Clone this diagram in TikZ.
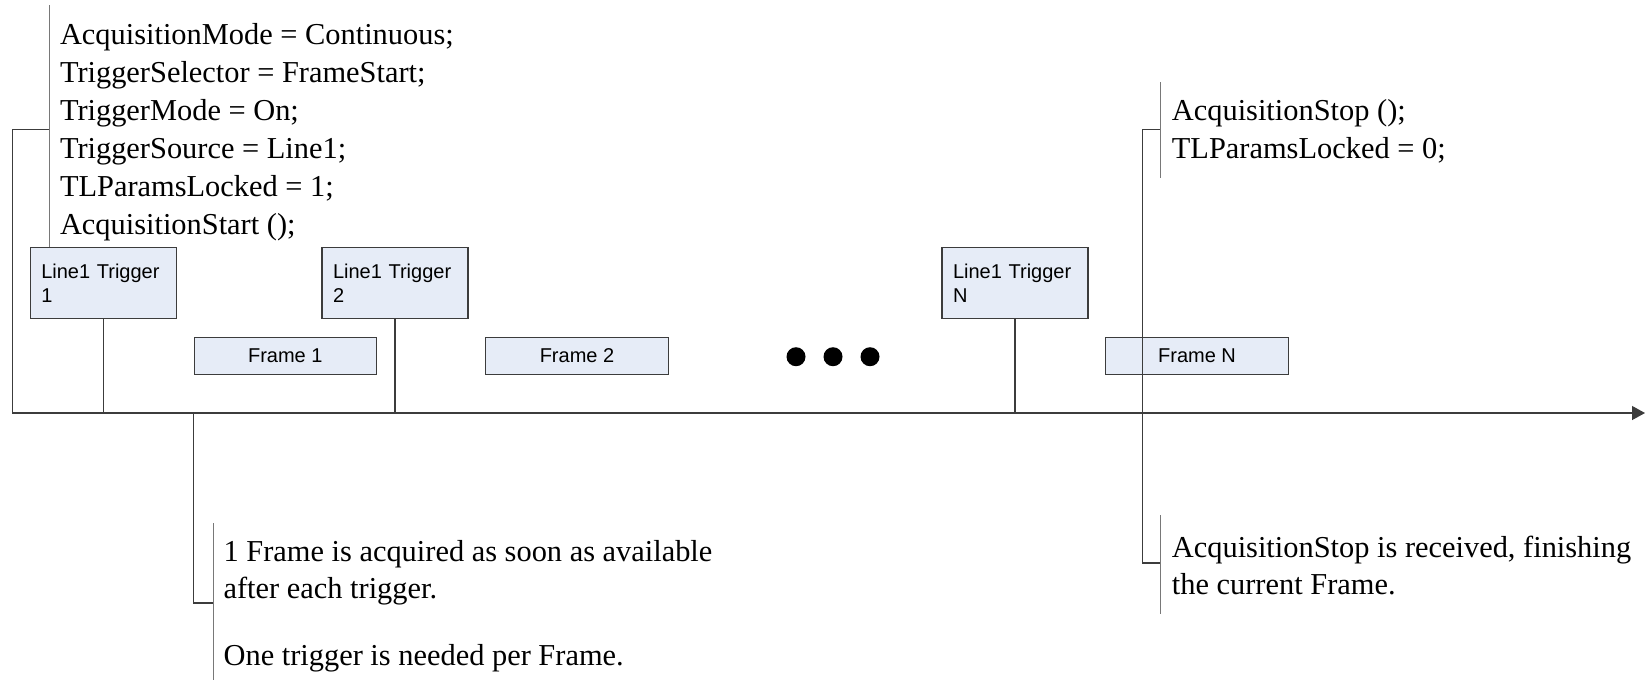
\documentclass[tikz,border=0pt]{standalone}
\usepackage{fontspec}
\setmainfont{Liberation Serif}
\newfontfamily\boxfont{Liberation Sans}
\usetikzlibrary{arrows.meta}
\definecolor{boxfill}{RGB}{230,236,247}
\definecolor{wire}{RGB}{60,60,60}
\definecolor{tickgray}{RGB}{120,120,120}

\begin{document}
\begin{tikzpicture}[x=1pt,y=-1pt,
  trig/.style={draw=wire,fill=boxfill,line width=1.1pt,text width=124pt,
    inner xsep=11pt,inner ysep=0pt,minimum height=71pt,align=left,
    font=\boxfont\fontsize{20}{24}\selectfont},
  frame/.style={draw=wire,fill=boxfill,line width=1.1pt,minimum width=182.5pt,
    minimum height=37pt,inner sep=0pt,font=\boxfont\fontsize{20}{24}\selectfont},
  note/.style={anchor=base west,inner sep=0pt,align=left,
    font=\fontsize{30.4}{38}\selectfont},
  conn/.style={draw=wire,line width=1.2pt},
  tick/.style={draw=tickgray,line width=1pt},
  dot/.style={circle,fill=black,minimum size=19pt,inner sep=0pt}]
\useasboundingbox (0,0) rectangle (1645,681);
\coordinate (o) at (12.3,413);
\coordinate (e) at (1645,413);
\draw[conn,-{Triangle[length=13pt,width=14pt]}] (o) -- (e);

% setup text, placed by its last line
\node[note] (setup) at (59.8,234.6) {AcquisitionMode = Continuous;\\
  TriggerSelector = FrameStart;\\ TriggerMode = On;\\ TriggerSource = Line1;\\
  TLParamsLocked = 1;\\ AcquisitionStart ();};
\coordinate (c1) at (49.3,129.5);
\draw[conn] (o) |- (c1);
\coordinate (u1) at (49.3,5);
\coordinate (u2) at (49.3,247.5);
\draw[tick] (u1) -- (u2);

\node[trig] (t1) at (103.3,283) {Line1 Trigger\\1};
\node[trig] (t2) at (395,283) {Line1 Trigger\\2};
\node[trig] (tn) at (1015,283) {Line1 Trigger\\N};
\draw[conn] (t1.south) -- (t1.south |- o);
\draw[conn] (t2.south) -- (t2.south |- o);
\draw[conn] (tn.south) -- (tn.south |- o);

\node[frame] (f1) at (285.3,356) {Frame 1};
\node[frame] (f2) at (577,356) {Frame 2};
\node[frame] (fn) at (1197,356) {Frame N};

\node[dot] (d1) at (796,356.7) {};
\node[dot] (d2) at (833,356.7) {};
\node[dot] (d3) at (870,356.7) {};

% frame note
\coordinate (c4) at (213,603);
\draw[conn] (f1.west |- o) |- (c4);
\coordinate (u3) at (213,523);
\coordinate (u4) at (213,680);
\draw[tick] (u3) -- (u4);
\node[note] (fnote) at (223.4,665.6) {1 Frame is acquired as soon as available\\[-1.5pt]
  after each trigger.\\[29.5pt] One trigger is needed per Frame.};

% stop
\coordinate (s) at (1142.7,413);
\coordinate (c2) at (1160.7,129.5);
\coordinate (c3) at (1160.7,563);
\draw[conn] (c2) -| (s) |- (c3);
\coordinate (u5) at (1160.7,82);
\coordinate (u6) at (1160.7,178);
\draw[tick] (u5) -- (u6);
\coordinate (u7) at (1160.7,515);
\coordinate (u8) at (1160.7,613.7);
\draw[tick] (u7) -- (u8);
\node[note] (stop) at (1171.7,158) {AcquisitionStop ();\\ TLParamsLocked = 0;};
\node[note] (stopnote) at (1171.7,594.5) {AcquisitionStop is received, finishing\\[-1pt]
  the current Frame.};
\end{tikzpicture}
\end{document}
